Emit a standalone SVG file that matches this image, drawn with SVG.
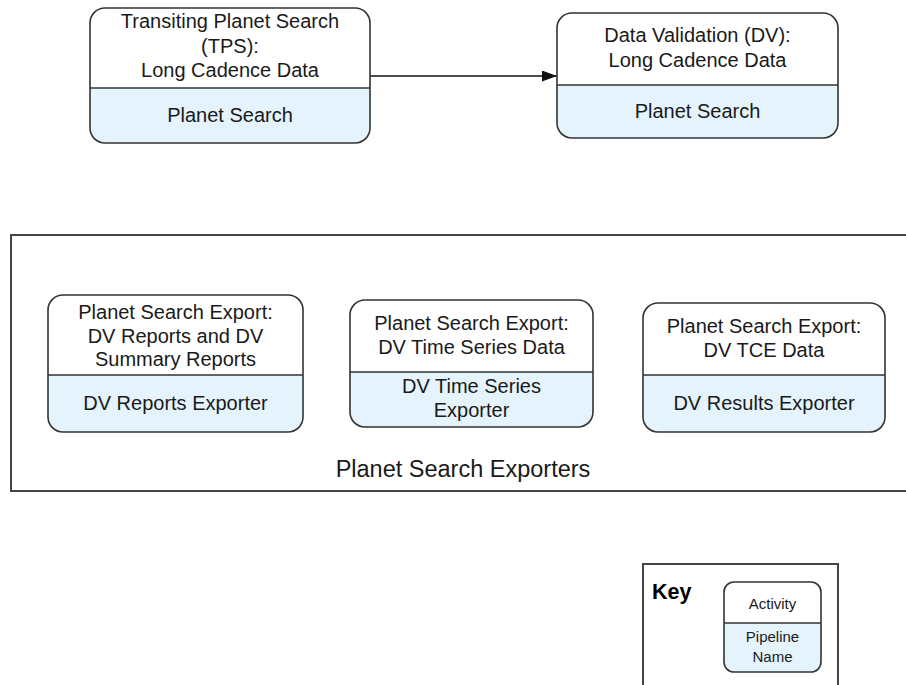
<svg xmlns="http://www.w3.org/2000/svg" width="906" height="685" viewBox="0 0 906 685">
<defs>
<style>
.box{fill:#ffffff;stroke:none}
.outline{fill:none;stroke:#333333;stroke-width:1.6}
.lower{fill:#e4f3fc;stroke:none}
.div{stroke:#333333;stroke-width:1.6}
.t{font-family:"Liberation Sans",Arial,sans-serif;font-size:20px;fill:#1a1a1a;text-anchor:middle}
.ts{font-family:"Liberation Sans",Arial,sans-serif;font-size:15px;fill:#1a1a1a;text-anchor:middle}
.frame{fill:none;stroke:#444444;stroke-width:2}
.conn{stroke:#111111;stroke-width:1.5;fill:none}
</style>
<marker id="arr" markerWidth="15" markerHeight="11" refX="15" refY="5.5" orient="auto" markerUnits="userSpaceOnUse">
<path d="M0,0 L15,5.5 L0,11 Z" fill="#111111"/>
</marker>
<clipPath id="c1"><rect x="90" y="8" width="280" height="135" rx="15"/></clipPath>
<clipPath id="c2"><rect x="557" y="13" width="281" height="125" rx="15"/></clipPath>
<clipPath id="c3"><rect x="48" y="295" width="255" height="137" rx="15"/></clipPath>
<clipPath id="c4"><rect x="350" y="300" width="243" height="127" rx="15"/></clipPath>
<clipPath id="c5"><rect x="643" y="303" width="242" height="129" rx="15"/></clipPath>
<clipPath id="c6"><rect x="724" y="582" width="97" height="90" rx="10"/></clipPath>
</defs>

<g id="container-exporters">
<rect class="frame" x="11" y="235" width="910" height="256"/>
<text class="t" x="463" y="477" style="font-size:23.5px">Planet Search Exporters</text>
</g>

<g id="connectors">
<line class="conn" x1="370" y1="76" x2="557" y2="76" marker-end="url(#arr)"/>
</g>

<g id="node-tps">
<rect class="box" x="90" y="8" width="280" height="135" rx="15"/>
<rect class="lower" x="90" y="88" width="280" height="60" clip-path="url(#c1)"/>
<line class="div" x1="90" y1="88" x2="370" y2="88"/>
<rect class="outline" x="90" y="8" width="280" height="135" rx="15"/>
<text class="t" x="230" y="28">Transiting Planet Search</text>
<text class="t" x="230" y="53">(TPS):</text>
<text class="t" x="230" y="77">Long Cadence Data</text>
<text class="t" x="230" y="122">Planet Search</text>
</g>

<g id="node-dv">
<rect class="box" x="557" y="13" width="281" height="125" rx="15"/>
<rect class="lower" x="557" y="85" width="281" height="60" clip-path="url(#c2)"/>
<line class="div" x1="557" y1="85" x2="838" y2="85"/>
<rect class="outline" x="557" y="13" width="281" height="125" rx="15"/>
<text class="t" x="697.5" y="42">Data Validation (DV):</text>
<text class="t" x="697.5" y="67">Long Cadence Data</text>
<text class="t" x="697.5" y="118">Planet Search</text>
</g>

<g id="node-dv-reports">
<rect class="box" x="48" y="295" width="255" height="137" rx="15"/>
<rect class="lower" x="48" y="375" width="255" height="60" clip-path="url(#c3)"/>
<line class="div" x1="48" y1="375" x2="303" y2="375"/>
<rect class="outline" x="48" y="295" width="255" height="137" rx="15"/>
<text class="t" x="175.5" y="319">Planet Search Export:</text>
<text class="t" x="175.5" y="343">DV Reports and DV</text>
<text class="t" x="175.5" y="366">Summary Reports</text>
<text class="t" x="175.5" y="410">DV Reports Exporter</text>
</g>

<g id="node-dv-timeseries">
<rect class="box" x="350" y="300" width="243" height="127" rx="15"/>
<rect class="lower" x="350" y="372" width="243" height="60" clip-path="url(#c4)"/>
<line class="div" x1="350" y1="372" x2="593" y2="372"/>
<rect class="outline" x="350" y="300" width="243" height="127" rx="15"/>
<text class="t" x="471.5" y="330">Planet Search Export:</text>
<text class="t" x="471.5" y="354">DV Time Series Data</text>
<text class="t" x="471.5" y="393">DV Time Series</text>
<text class="t" x="471.5" y="417">Exporter</text>
</g>

<g id="node-dv-tce">
<rect class="box" x="643" y="303" width="242" height="129" rx="15"/>
<rect class="lower" x="643" y="375" width="242" height="60" clip-path="url(#c5)"/>
<line class="div" x1="643" y1="375" x2="885" y2="375"/>
<rect class="outline" x="643" y="303" width="242" height="129" rx="15"/>
<text class="t" x="764" y="333">Planet Search Export:</text>
<text class="t" x="764" y="357">DV TCE Data</text>
<text class="t" x="764" y="410">DV Results Exporter</text>
</g>

<g id="key">
<rect class="frame" x="643" y="564" width="195" height="140"/>
<text x="652" y="599" style="font-family:'Liberation Sans',Arial,sans-serif;font-size:21.5px;font-weight:bold;fill:#000">Key</text>
<g id="key-node">
<rect class="box" x="724" y="582" width="97" height="90" rx="10"/>
<rect class="lower" x="724" y="623" width="97" height="55" clip-path="url(#c6)"/>
<line class="div" x1="724" y1="623" x2="821" y2="623"/>
<rect class="outline" x="724" y="582" width="97" height="90" rx="10"/>
<text class="ts" x="772.5" y="609">Activity</text>
<text class="ts" x="772.5" y="642">Pipeline</text>
<text class="ts" x="772.5" y="662">Name</text>
</g>
</g>
</svg>
